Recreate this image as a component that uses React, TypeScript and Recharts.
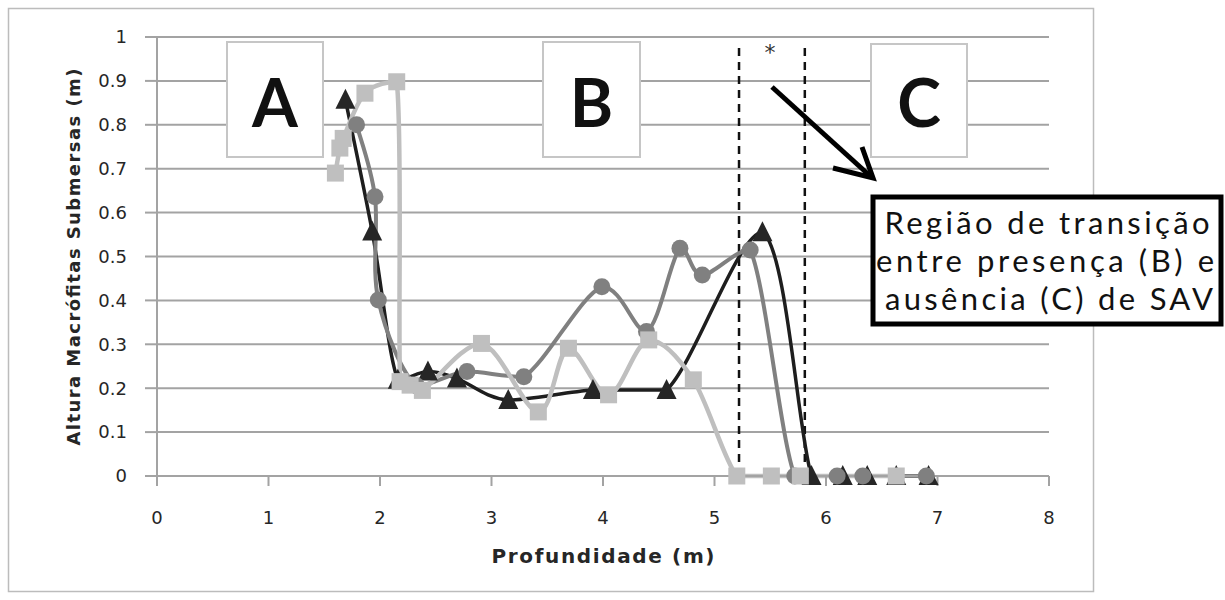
import React from "react";
import { LineChart, Line, XAxis, YAxis, CartesianGrid, ReferenceLine } from "recharts";

// eixos
const xTicks = [0, 1, 2, 3, 4, 5, 6, 7, 8];
const yTicks = [0, 0.1, 0.2, 0.3, 0.4, 0.5, 0.6, 0.7, 0.8, 0.9, 1];

// série 1 – triângulos pretos
const triX = [1.69, 1.93, 2.16, 2.43, 2.69, 3.15, 3.91, 4.57, 5.43, 5.87, 6.15, 6.37, 6.63, 6.92];
const triY = [0.857, 0.557, 0.219, 0.238, 0.222, 0.173, 0.196, 0.196, 0.555, 0, 0, 0, 0, 0];

// série 2 – círculos cinza
const circX = [1.79, 1.955, 1.985, 2.33, 2.78, 3.29, 3.99, 4.39, 4.69, 4.89, 5.32, 5.72, 6.1, 6.33, 6.9];
const circY = [0.8, 0.636, 0.401, 0.205, 0.238, 0.226, 0.431, 0.329, 0.519, 0.458, 0.515, 0, 0, 0, 0];

// série 3 – quadrados cinza claro
const sqX = [1.6, 1.64, 1.67, 1.865, 2.15, 2.18, 2.27, 2.38, 2.91, 3.42, 3.69, 4.05, 4.41, 4.81, 5.2, 5.51, 5.77, 6.63];
const sqY = [0.69, 0.747, 0.769, 0.872, 0.898, 0.215, 0.207, 0.195, 0.302, 0.146, 0.291, 0.185, 0.31, 0.219, 0, 0, 0, 0];

// limites da região de transição
const transitionX = [5.22, 5.81];

const zip = (xs: number[], ys: number[]) => xs.map((x, i) => ({ x, y: ys[i] }));
const triData = zip(triX, triY);
const circData = zip(circX, circY);
const sqData = zip(sqX, sqY);

const clamp = (v: number, a: number, b: number) => Math.min(Math.max(v, Math.min(a, b)), Math.max(a, b));

// suavização parecida com a do Excel (Catmull-Rom), sem ultrapassar os pontos em y
const excelCurve = (context: any) => {
  let pts: number[][] = [];
  return {
    areaStart() {},
    areaEnd() {},
    lineStart() {
      pts = [];
    },
    point(x: number, y: number) {
      pts.push([+x, +y]);
    },
    lineEnd() {
      if (!pts.length) return;
      context.moveTo(pts[0][0], pts[0][1]);
      for (let i = 0; i < pts.length - 1; i++) {
        const p0 = pts[Math.max(i - 1, 0)];
        const p1 = pts[i];
        const p2 = pts[i + 1];
        const p3 = pts[Math.min(i + 2, pts.length - 1)];
        context.bezierCurveTo(
          p1[0] + (p2[0] - p0[0]) / 6,
          clamp(p1[1] + (p2[1] - p0[1]) / 6, p1[1], p2[1]),
          p2[0] - (p3[0] - p1[0]) / 6,
          clamp(p2[1] - (p3[1] - p1[1]) / 6, p1[1], p2[1]),
          p2[0],
          p2[1]
        );
      }
    },
  };
};

const TriangleDot = (props: any) => {
  const { cx, cy, index } = props;
  if (cx == null || cy == null) return <g key={`t-${index}`} />;
  return (
    <polygon
      key={`t-${index}`}
      points={`${cx},${cy - 11} ${cx + 10},${cy + 9} ${cx - 10},${cy + 9}`}
      fill="#262626"
    />
  );
};

const SquareDot = (props: any) => {
  const { cx, cy, index } = props;
  if (cx == null || cy == null) return <g key={`s-${index}`} />;
  return <rect key={`s-${index}`} x={cx - 8.5} y={cy - 8.5} width={17} height={17} fill="#bfbfbf" />;
};

const axisColor = "#a3a3a3";
const tickFont = { fontSize: 18, fill: "#262626", fontFamily: "DejaVu Sans" };

export default function App() {
  return (
    <div style={{ position: "absolute", left: 0, top: 0, width: 1225, height: 600, background: "#fff" }}>
      <LineChart width={1225} height={600} margin={{ top: 37, right: 176, bottom: 74, left: 97 }}>
        <CartesianGrid vertical={false} stroke={axisColor} strokeWidth={2} />
        <XAxis
          type="number"
          dataKey="x"
          domain={[0, 8]}
          ticks={xTicks}
          height={50}
          tickSize={10}
          tickMargin={25}
          axisLine={{ stroke: axisColor, strokeWidth: 2 }}
          tickLine={{ stroke: axisColor, strokeWidth: 2 }}
          tick={tickFont}
        />
        <YAxis
          type="number"
          domain={[0, 1]}
          ticks={yTicks}
          width={60}
          tickSize={12}
          tickMargin={18}
          axisLine={{ stroke: axisColor, strokeWidth: 2 }}
          tickLine={{ stroke: axisColor, strokeWidth: 2 }}
          tick={tickFont}
        />
        {transitionX.map((v) => (
          <ReferenceLine
            key={v}
            segment={[{ x: v, y: 0 }, { x: v, y: 0.985 }]}
            stroke="#111"
            strokeWidth={2.5}
            strokeDasharray="8 6"
          />
        ))}
        <Line
          data={triData}
          dataKey="y"
          type={excelCurve as any}
          stroke="#1e1e1e"
          strokeWidth={3.5}
          dot={TriangleDot}
          activeDot={false}
          isAnimationActive={false}
        />
        <Line
          data={circData}
          dataKey="y"
          type={excelCurve as any}
          stroke="#808080"
          strokeWidth={4}
          dot={{ r: 8.5, fill: "#808080", stroke: "none" }}
          activeDot={false}
          isAnimationActive={false}
        />
        <Line
          data={sqData}
          dataKey="y"
          type={excelCurve as any}
          stroke="#bfbfbf"
          strokeWidth={4.5}
          dot={SquareDot}
          activeDot={false}
          isAnimationActive={false}
        />
      </LineChart>

      {/* anotações */}
      <svg width={1225} height={600} style={{ position: "absolute", left: 0, top: 0, pointerEvents: "none" }}>
        <rect x={8.5} y={8.5} width={1085} height={583} fill="none" stroke="#bcbcbc" strokeWidth={1.5} />

        <text
          x={603}
          y={563}
          textAnchor="middle"
          fontFamily="DejaVu Sans"
          fontWeight="bold"
          fontSize={20}
          fill="#262626"
          textLength={223}
          lengthAdjust="spacing"
        >
          Profundidade (m)
        </text>
        <text
          transform="translate(80, 257) rotate(-90)"
          textAnchor="middle"
          fontFamily="DejaVu Sans"
          fontWeight="bold"
          fontSize={18}
          fill="#262626"
          textLength={377}
          lengthAdjust="spacing"
        >
          Altura Macrófitas  Submersas (m)
        </text>

        {[
          { x: 227, y: 42, w: 96, h: 115, t: "A" },
          { x: 543, y: 42, w: 97, h: 115, t: "B" },
          { x: 871, y: 44, w: 96, h: 113, t: "C" },
        ].map((b) => (
          <g key={b.t}>
            <rect x={b.x} y={b.y} width={b.w} height={b.h} fill="#fff" stroke="#c6c6c6" strokeWidth={2} />
            <text
              x={b.x + b.w / 2}
              y={127}
              textAnchor="middle"
              fontFamily="Lato"
              fontWeight={700}
              fontSize={66}
              fill="#111"
            >
              {b.t}
            </text>
          </g>
        ))}

        <text x={770} y={60} textAnchor="middle" fontFamily="DejaVu Sans" fontSize={22} fill="#333">
          *
        </text>

        <line x1={772} y1={87} x2={869} y2={175} stroke="#000" strokeWidth={5} />
        <polyline points="833,168 873,178 862,147" fill="none" stroke="#000" strokeWidth={5} />

        <rect x={873} y={197} width={348} height={127} fill="#fff" stroke="#000" strokeWidth={5} />
        <g fontFamily="Lato" fontSize={31} fill="#111" textAnchor="middle">
          <text x={1047} y={234} textLength={325} lengthAdjust="spacing">
            Região de transição
          </text>
          <text x={1045} y={272} textLength={338} lengthAdjust="spacing">
            entre presença (B) e
          </text>
          <text x={1049} y={310} textLength={328} lengthAdjust="spacing">
            ausência (C) de SAV
          </text>
        </g>
      </svg>
    </div>
  );
}
